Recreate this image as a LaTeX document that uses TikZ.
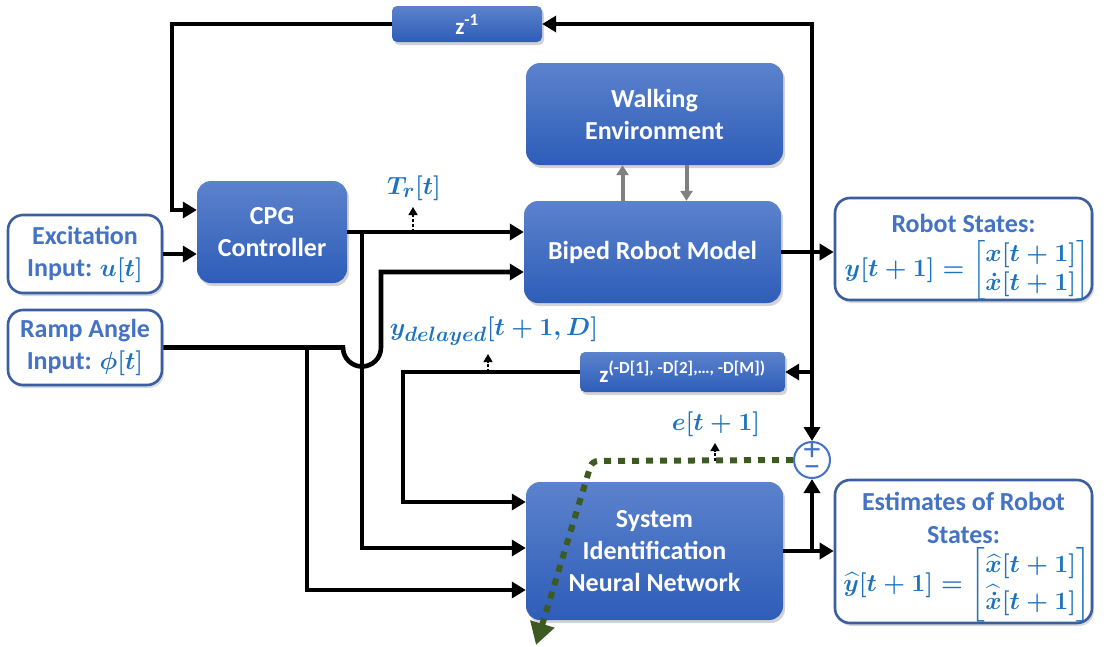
\documentclass[tikz,border=0pt]{standalone}
\usepackage{amsmath}
\usepackage{fontspec}
\setmainfont{Carlito}
\usetikzlibrary{arrows.meta,shadows,calc}
\definecolor{blktop}{HTML}{5B82CC}
\definecolor{blkbot}{HTML}{2E5DB8}
\definecolor{ioborder}{HTML}{3B5E9E}
\definecolor{iotext}{HTML}{4472C4}
\definecolor{mathblue}{HTML}{1E73C0}
\definecolor{errgreen}{HTML}{3D5A22}
\definecolor{envgray}{HTML}{808080}
\tikzset{
  blk/.style={rounded corners=14pt, top color=blktop, bottom color=blkbot, draw=none,
    text=white, font=\bfseries\fontsize{26}{32}\selectfont, align=center, inner sep=0pt,
    drop shadow={shadow xshift=2pt, shadow yshift=-3pt, opacity=0.35}},
  smallblk/.style={blk, rounded corners=5pt, font=\bfseries\fontsize{23}{24}\selectfont},
  iobox/.style={rounded corners=15pt, draw=ioborder, line width=2.6pt, fill=white,
    text=iotext, font=\bfseries\fontsize{26}{32}\selectfont, align=center, inner sep=0pt,
    drop shadow={shadow xshift=2pt, shadow yshift=-3pt, opacity=0.3}},
  iotitle/.style={text=iotext, font=\bfseries\fontsize{26}{33}\selectfont, align=center, inner sep=0pt},
  ioeq/.style={text=mathblue, font=\fontsize{25}{30}\selectfont, inner sep=0pt},
  wire/.style={line width=4.6pt, draw=black},
  arr/.style={-{Triangle[length=14pt,width=16pt]}},
  probe/.style={line width=1.3pt, dash pattern=on 3pt off 2pt, -{Triangle[length=8pt,width=9pt]}},
  envarrow/.style={line width=4pt, draw=envgray, -{Triangle[length=10pt,width=12pt]}},
  siglabel/.style={text=mathblue, inner sep=0pt},
  signfont/.style={text=iotext, inner sep=0pt, font=\fontsize{34}{34}\selectfont},
}
\newcommand{\sigmath}[1]{{\boldmath$#1$}}
\begin{document}
\begin{tikzpicture}[x=1pt, y=-1pt]
\useasboundingbox (0,0) rectangle (1104,646);

% blocks
\node[smallblk, minimum width=150pt, minimum height=36pt] (zinv) at (467,24)
  {z\textsuperscript{\fontsize{17}{18}\selectfont -1}};
\node[blk, minimum width=150pt, minimum height=102pt] (cpg) at (272,232) {CPG\\Controller};
\node[blk, minimum width=257pt, minimum height=102pt] (walk) at (654.5,114) {Walking\\Environment};
\node[blk, minimum width=257pt, minimum height=102pt] (biped) at (652.5,252) {Biped Robot Model};
\node[smallblk, minimum width=205pt, minimum height=40pt] (zd) at (682.5,372)
  {z\textsuperscript{\fontsize{17}{18}\selectfont(-D[1], -D[2],\dots, -D[M])}};
\node[blk, minimum width=257pt, minimum height=138pt] (sinn) at (654.5,551) {System\\Identification\\Neural Network};

% inputs
\node[iobox, minimum width=154pt, minimum height=78pt] (exc) at (85,254)
  {Excitation\\Input: {\color{mathblue}\sigmath{u[t]}}};
\node[iobox, minimum width=154pt, minimum height=75pt] (ramp) at (85,347.5)
  {Ramp Angle\\Input: {\color{mathblue}\sigmath{\phi[t]}}};

% outputs: frame, title and state vector
\node[iobox, minimum width=257pt, minimum height=102pt] (rs) at (963.5,249) {};
\node[iotitle] (rstitle) at (963.5,223) {Robot States:};
\node[ioeq] (rseq) at (967,270)
  {\sigmath{y[t+1]=\begin{bmatrix}x[t+1]\\[-1pt]\dot{x}[t+1]\end{bmatrix}}};
\node[iobox, minimum width=257pt, minimum height=143pt] (est) at (963.5,551.5) {};
\node[iotitle] (esttitle) at (963.5,518) {Estimates of Robot\\States:};
\node[ioeq] (esteq) at (967,585)
  {\sigmath{\widehat{y}[t+1]=\begin{bmatrix}\widehat{x}[t+1]\\[3pt]\widehat{\dot{x}}[t+1]\end{bmatrix}}};

% summing junction
\node[circle, draw=iotext, line width=2pt, fill=white, minimum size=36pt, inner sep=0pt] (sum) at (812,460) {};
\node[signfont] (plus) at (812,451) {+};
\node[signfont] (minus) at (812,472) {\char"2212};

% branch points
\coordinate (jr) at (812,252);
\coordinate (jd) at (812,372);
\coordinate (tl) at (172,24);
\coordinate (jc) at (362,232);
\coordinate (jp) at (307,347.5);
\coordinate (hopa) at (343,347.5);
\coordinate (hopb) at (381,347.5);
\coordinate (zl) at (403,372);
\coordinate (js) at (812,551);
\coordinate (tapT) at (413,232);
\coordinate (tapTend) at (413,207);
\coordinate (tapY) at (488,372);
\coordinate (tapYend) at (488,354);
\coordinate (tapE) at (715,461);
\coordinate (tapEend) at (715,443);
\coordinate (ecorner) at (592,461);
\coordinate (eend) at (536,645);

% unit-delay feedback
\draw[wire, arr] (jr) |- (zinv.east);
\draw[wire, arr] (zinv.west) -- (tl) |- ([yshift=22pt]cpg.west);
% controller input and output
\draw[wire, arr] (exc.east) -- (exc.east -| cpg.west);
\draw[wire, arr] (cpg.east) -- (cpg.east -| biped.west);
\draw[wire, arr] (jc) |- ([yshift=3pt]sinn.west);
% ramp angle, dipping under the torque wire
\draw[wire, arr] (ramp.east) -- (hopa) arc[start angle=180, end angle=360, radius=19pt]
  -- ([yshift=-20pt]biped.west -| hopb) -- ([yshift=-20pt]biped.west);
\draw[wire, arr] (jp) |- ([yshift=-39pt]sinn.west);
% plant output
\draw[wire, arr] (biped.east) -- (biped.east -| rs.west);
\draw[wire, arr] (jr) -- (sum.north);
\draw[wire, arr] (jd) -- (zd.east);
\draw[wire, arr] (zd.west) -- (zl) |- ([yshift=49pt]sinn.west);
% network output
\draw[wire, arr] (sinn.east) -- (sinn.east -| est.west);
\draw[wire, arr] (js) -- (sum.south);

% environment interaction
\draw[envarrow] ([xshift=-30pt]biped.north) -- ([xshift=-30pt]biped.north |- walk.south);
\draw[envarrow] ([xshift=32pt]walk.south) -- ([xshift=32pt]walk.south |- biped.north);

% error back to the network
\draw[line width=6pt, draw=errgreen, dash pattern=on 7pt off 7pt, rounded corners=6pt,
  -{Triangle[length=22pt,width=24pt]}] (sum.west) -- (ecorner) -- (eend);

% signal taps and labels
\draw[probe] (tapT) -- (tapTend);
\draw[probe] (tapY) -- (tapYend);
\draw[probe] (tapE) -- (tapEend);
\node[siglabel, font=\fontsize{29}{30}\selectfont] (tlab) at (414,188) {\sigmath{T_r[t]}};
\node[siglabel, font=\fontsize{28}{30}\selectfont] (ylab) at (494,331) {\sigmath{y_{delayed}[t+1,D]}};
\node[siglabel, font=\fontsize{27}{30}\selectfont] (elab) at (716,424) {\sigmath{e[t+1]}};
\end{tikzpicture}
\end{document}
